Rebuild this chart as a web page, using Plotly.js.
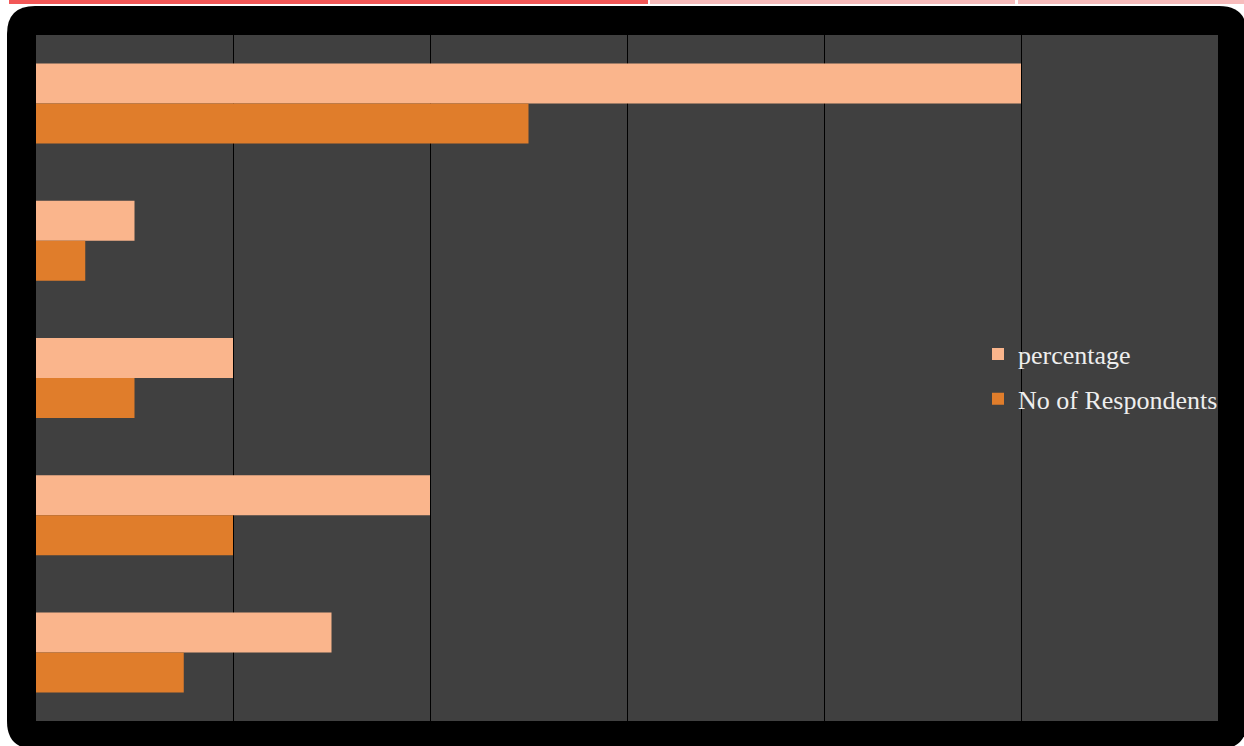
<!DOCTYPE html>
<html>
<head>
<meta charset="utf-8">
<script src="https://cdn.plot.ly/plotly-3.0.1.min.js"></script>
<style>html,body{margin:0;padding:0;background:#fff;}#chart{width:1244px;height:746px;}</style>
</head>
<body>
<div id="chart"></div>
<script>
// Data (top category first)
var categories = ["Item 1", "Item 2", "Item 3", "Item 4", "Item 5"];
var percentage = [50, 5, 10, 20, 15];
var respondents = [25, 2.5, 5, 10, 7.5];
var seriesNames = ["percentage", "No of Respondents"];

// Layout geometry helpers (pixel -> paper)
var L = 36, R = 1218, T = 35, B = 721;
function px(x) { return (x - L) / (R - L); }
function py(y) { return (B - y) / (B - T); }
function rectShape(x0, y0, x1, y1, color) {
  return {type: "rect", xref: "paper", yref: "paper", layer: "below",
    x0: px(x0), x1: px(x1), y0: py(y0), y1: py(y1),
    fillcolor: color, line: {width: 0}};
}
function roundPath(x0, y0, x1, y1, r) {
  function P(x, y) { return px(x) + "," + py(y); }
  return "M" + P(x0 + r, y0) + " L" + P(x1 - r, y0) + " Q" + P(x1, y0) + " " + P(x1, y0 + r) +
    " L" + P(x1, y1 - r) + " Q" + P(x1, y1) + " " + P(x1 - r, y1) +
    " L" + P(x0 + r, y1) + " Q" + P(x0, y1) + " " + P(x0, y1 - r) +
    " L" + P(x0, y0 + r) + " Q" + P(x0, y0) + " " + P(x0 + r, y0) + " Z";
}

var shapes = [
  rectShape(9, 0, 648, 4, "#F25757"),
  rectShape(650, 0, 1015, 4, "#F7BCBC"),
  rectShape(1018, 0, 1244, 4, "#F7BCBC"),
  {type: "path", xref: "paper", yref: "paper", layer: "below",
   path: roundPath(7, 6, 1247, 749, 28), fillcolor: "#000000", line: {width: 0}},
  rectShape(36, 35, 1218, 721, "#404040")
];

var traces = [
  {type: "bar", orientation: "h", name: seriesNames[0], y: categories, x: percentage,
   legendgroup: "a", marker: {color: "#FAB58C", line: {width: 0}}, hoverinfo: "x+name"},
  {type: "bar", orientation: "h", name: seriesNames[1], y: categories, x: respondents,
   legendgroup: "b", marker: {color: "#E07D2B", line: {width: 0}}, hoverinfo: "x+name"}
];

var layout = {
  width: 1244, height: 746,
  margin: {l: L, r: 1244 - R, t: T, b: 746 - B, pad: 0},
  paper_bgcolor: "#ffffff",
  plot_bgcolor: "rgba(0,0,0,0)",
  barmode: "group",
  bargap: 0.417,
  bargroupgap: 0,
  shapes: shapes,
  xaxis: {range: [0, 60], dtick: 10, tick0: 0, showgrid: true, gridcolor: "#000000", gridwidth: 1,
          zeroline: false, showticklabels: false, ticks: "", showline: false, fixedrange: true},
  yaxis: {autorange: "reversed", showgrid: false, zeroline: false, showticklabels: false,
          ticks: "", showline: false, fixedrange: true},
  showlegend: true,
  legend: {x: px(978), xanchor: "left", y: 0.502, yanchor: "middle",
           bgcolor: "rgba(0,0,0,0)", traceorder: "grouped", tracegroupgap: 8,
           font: {family: "Liberation Serif, Times New Roman, serif", size: 26, color: "#EEEEEE"}},
  font: {family: "Liberation Serif, serif"}
};

Plotly.newPlot("chart", traces, layout, {displayModeBar: false, staticPlot: true});
</script>
</body>
</html>
